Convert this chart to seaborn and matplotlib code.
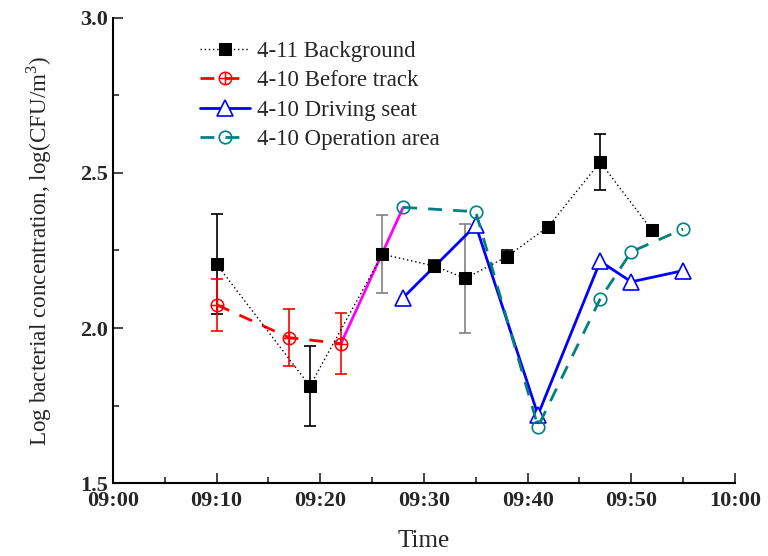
import matplotlib
matplotlib.use("Agg")
import matplotlib.pyplot as plt
import seaborn as sns
import pandas as pd
import numpy as np
from matplotlib.ticker import MultipleLocator, FixedLocator
from matplotlib.path import Path

sns.set_style("ticks")
plt.rcParams['font.family'] = ['Liberation Serif', 'DejaVu Serif']
plt.rcParams['mathtext.fontset'] = 'custom'
plt.rcParams['mathtext.rm'] = 'Liberation Serif'

# ---- data ----
bg_time = ["09:10", "09:19", "09:26", "09:31", "09:34", "09:38", "09:42", "09:47", "09:52"]
bg_val = [2.206, 1.813, 2.238, 2.200, 2.160, 2.230, 2.327, 2.535, 2.315]
bg_err = [0.16, 0.13, 0.125, 0.02, 0.175, 0.02, 0.0, 0.09, 0.0]

bt_time = ["09:10", "09:17", "09:22"]
bt_val = [2.075, 1.969, 1.950]
bt_err = [0.083, 0.092, 0.097]

ds_time = ["09:28", "09:35", "09:41", "09:47", "09:50", "09:55"]
ds_val = [2.098, 2.331, 1.720, 2.215, 2.149, 2.185]

op_time = ["09:28", "09:35", "09:41", "09:47", "09:50", "09:55"]
op_val = [2.389, 2.375, 1.682, 2.094, 2.246, 2.319]

link_time = ["09:22", "09:28"]
link_val = [1.950, 2.389]

x_ticklabels = ["09:00", "09:10", "09:20", "09:30", "09:40", "09:50", "10:00"]


def to_min(ts):
    return [int(t.split(":")[0]) * 60 + int(t.split(":")[1]) - 540 for t in ts]


# circle-with-cross marker
circ = Path.unit_circle()
cross = Path([(-1, 0), (1, 0), (0, -1), (0, 1)],
             [Path.MOVETO, Path.LINETO, Path.MOVETO, Path.LINETO])
circ_plus = Path.make_compound_path(circ, cross)

fig = plt.figure(figsize=(7.68, 5.56), dpi=100)
ax = fig.add_axes([0.147, 0.131, 0.810, 0.837])

bg = pd.DataFrame({"t": to_min(bg_time), "v": bg_val})
bt = pd.DataFrame({"t": to_min(bt_time), "v": bt_val})
ds = pd.DataFrame({"t": to_min(ds_time), "v": ds_val})
op = pd.DataFrame({"t": to_min(op_time), "v": op_val})
lk = pd.DataFrame({"t": to_min(link_time), "v": link_val})

# error bars
bg_errcol = ["black", "black", "grey", "black", "grey", "black", "black", "black", "black"]
for t, v, e, c in zip(bg["t"], bg_val, bg_err, bg_errcol):
    if e > 0:
        ax.errorbar(t, v, yerr=e, fmt="none", ecolor=c, elinewidth=1.2, capsize=4.5, capthick=1.2, zorder=2)
ax.errorbar(bt["t"], bt_val, yerr=bt_err, fmt="none", ecolor="red", elinewidth=1.2, capsize=4.5, capthick=1.2, zorder=2)

sns.lineplot(data=lk, x="t", y="v", ax=ax, color="magenta", lw=2, sort=False, zorder=3, legend=False)

sns.lineplot(data=bg, x="t", y="v", ax=ax, color="black", lw=1, linestyle=(0, (1, 2)), marker="s",
             markersize=9, mfc="black", mec="black", sort=False, zorder=5, label="4-11 Background")
sns.lineplot(data=bt, x="t", y="v", ax=ax, color="red", lw=2, linestyle=(0, (5, 4)), marker=circ_plus,
             markersize=9, mfc="none", mec="red", mew=1.1, sort=False, zorder=4, label="4-10 Before track")
sns.lineplot(data=ds, x="t", y="v", ax=ax, color="blue", lw=2, marker="^",
             markersize=11, mfc="white", mec="blue", mew=1.2, sort=False, zorder=4, label="4-10 Driving seat")
sns.lineplot(data=op, x="t", y="v", ax=ax, color="#008080", lw=2, linestyle=(0, (5, 4)), marker="o",
             markersize=9, mfc="none", mec="#008080", mew=1.2, sort=False, zorder=4, label="4-10 Operation area")

ax.set_xlim(0, 60)
ax.set_ylim(1.5, 3.0)
ax.xaxis.set_major_locator(FixedLocator([0, 10, 20, 30, 40, 50, 60]))
ax.set_xticklabels(x_ticklabels)
ax.xaxis.set_minor_locator(MultipleLocator(5))
ax.yaxis.set_major_locator(MultipleLocator(0.5))
ax.yaxis.set_minor_locator(MultipleLocator(0.25))
ax.tick_params(which="both", direction="in", width=1.2, labelsize=16)
ax.tick_params(which="major", length=7)
ax.tick_params(which="minor", length=4)
ax.tick_params(axis="x", pad=6)
for lab in ax.get_xticklabels() + ax.get_yticklabels():
    lab.set_fontweight("bold")
for s in ["top", "right"]:
    ax.spines[s].set_visible(False)
for s in ["left", "bottom"]:
    ax.spines[s].set_linewidth(1.5)
    ax.spines[s].set_color("black")

ax.set_xlabel("Time", fontsize=18, labelpad=13)
ax.set_ylabel("Log bacterial concentration, log(CFU/m$^3$)", fontsize=16.7, labelpad=19)

ax.legend(loc="upper left", bbox_to_anchor=(0.125, 0.97), frameon=False, fontsize=16.5,
          handlelength=2.2, handletextpad=0.3, labelspacing=0.36, borderaxespad=0)

fig.savefig("out.png", dpi=100)
